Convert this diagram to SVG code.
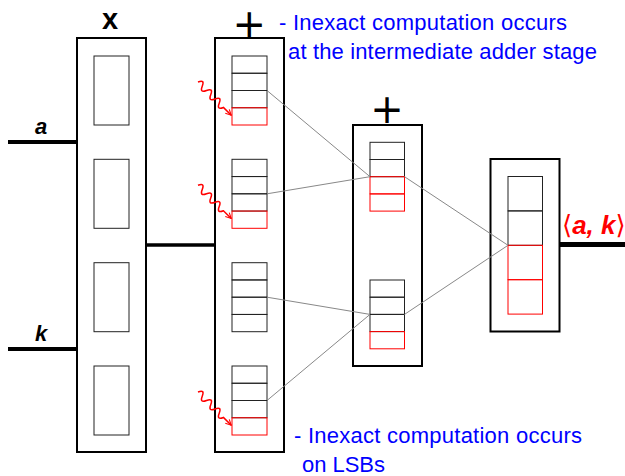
<svg xmlns="http://www.w3.org/2000/svg" width="625" height="476" viewBox="0 0 625 476">
<style>
.box{fill:none;stroke:#000;stroke-width:2}
.cell{fill:none;stroke:#222;stroke-width:1}
.rcell{fill:none;stroke:#ff0000;stroke-width:1}
.wire{stroke:#000;fill:none}
.conn{stroke:#888;stroke-width:1;fill:none}
.snake{stroke:#ff0000;stroke-width:1.5;fill:none}
.blue{font-family:"Liberation Sans",Arial,sans-serif;font-size:22px;fill:#0000ff}
.var{font-family:"Liberation Sans",Arial,sans-serif;font-weight:bold;font-style:italic;font-size:22px;fill:#000}
.op{font-family:"DejaVu Sans",sans-serif;font-size:40px;fill:#000}
</style>
<defs>
<marker id="ah" viewBox="0 0 10 10" refX="9" refY="5" markerWidth="7" markerHeight="7" orient="auto" markerUnits="userSpaceOnUse">
<path d="M1,1 L9,5 L1,9" fill="none" stroke="#ff0000" stroke-width="1.5"/>
</marker>
</defs>
<rect width="625" height="476" fill="#fff"/>

<g id="input-a">
<line class="wire" x1="8" y1="142" x2="77" y2="142" stroke-width="4"/>
<text class="var" x="35" y="134">a</text>
</g>
<g id="input-k">
<line class="wire" x1="8" y1="349" x2="77" y2="349" stroke-width="4"/>
<text class="var" x="35" y="341">k</text>
</g>

<g id="multiplier">
<text x="110" y="28.5" text-anchor="middle" font-family="Liberation Sans,Arial,sans-serif" font-weight="bold" font-size="29">x</text>
<rect class="box" x="77" y="38" width="69" height="414"/>
<rect class="cell" x="94" y="56" width="35" height="69"/>
<rect class="cell" x="94" y="159.3" width="35" height="69"/>
<rect class="cell" x="94" y="262.7" width="35" height="69"/>
<rect class="cell" x="94" y="366" width="35" height="69"/>
</g>

<g id="mid-wire">
<line class="wire" x1="146" y1="245" x2="215" y2="245" stroke-width="3.5"/>
</g>

<g id="adder1">
<text class="op" x="249.3" y="37.5" text-anchor="middle">+</text>
<rect class="box" x="215" y="38" width="69" height="414"/>
<g id="a1s1">
<rect class="cell" x="232" y="56" width="35" height="17.25"/>
<rect class="cell" x="232" y="73.25" width="35" height="17.25"/>
<rect class="cell" x="232" y="90.5" width="35" height="17.25"/>
<rect class="rcell" x="232" y="107.75" width="35" height="17.25"/>
</g>
<g id="a1s2">
<rect class="cell" x="232" y="159.3" width="35" height="17.25"/>
<rect class="cell" x="232" y="176.55" width="35" height="17.25"/>
<rect class="cell" x="232" y="193.8" width="35" height="17.25"/>
<rect class="rcell" x="232" y="211.05" width="35" height="17.25"/>
</g>
<g id="a1s3">
<rect class="cell" x="232" y="262.7" width="35" height="17.25"/>
<rect class="cell" x="232" y="279.95" width="35" height="17.25"/>
<rect class="cell" x="232" y="297.2" width="35" height="17.25"/>
<rect class="cell" x="232" y="314.45" width="35" height="17.25"/>
</g>
<g id="a1s4">
<rect class="cell" x="232" y="366" width="35" height="17.25"/>
<rect class="cell" x="232" y="383.25" width="35" height="17.25"/>
<rect class="cell" x="232" y="400.5" width="35" height="17.25"/>
<rect class="rcell" x="232" y="417.75" width="35" height="17.25"/>
</g>
</g>

<g id="adder2">
<text class="op" x="387" y="123" text-anchor="middle">+</text>
<rect class="box" x="353" y="125" width="69" height="241"/>
<g id="a2s1">
<rect class="cell" x="370" y="142.3" width="34.5" height="17.2"/>
<rect class="cell" x="370" y="159.5" width="34.5" height="17.2"/>
<rect class="rcell" x="370" y="176.7" width="34.5" height="17.2"/>
<rect class="rcell" x="370" y="193.9" width="34.5" height="17.2"/>
</g>
<g id="a2s2">
<rect class="cell" x="370" y="280" width="34.5" height="17.2"/>
<rect class="cell" x="370" y="297.2" width="34.5" height="17.2"/>
<rect class="cell" x="370" y="314.4" width="34.5" height="17.2"/>
<rect class="rcell" x="370" y="331.6" width="34.5" height="17.2"/>
</g>
</g>

<g id="final">
<rect class="box" x="490.5" y="159" width="69" height="172.5"/>
<rect class="cell" x="508" y="176.5" width="34.5" height="34.4"/>
<rect class="cell" x="508" y="210.9" width="34.5" height="34.4"/>
<rect class="rcell" x="508" y="245.3" width="34.5" height="34.4"/>
<rect class="rcell" x="508" y="279.7" width="34.5" height="34.4"/>
</g>

<g id="output">
<line class="wire" x1="559.5" y1="244.5" x2="625" y2="244.5" stroke-width="5"/>
<text x="562" y="234" fill="#ff0000" font-size="26"><tspan font-family="DejaVu Sans,sans-serif">⟨</tspan><tspan font-family="Liberation Sans,Arial,sans-serif" font-weight="bold" font-style="italic">a, k</tspan><tspan font-family="DejaVu Sans,sans-serif">⟩</tspan></text>
</g>

<g id="connectors">
<line class="conn" x1="267" y1="90.5" x2="370" y2="176.7"/>
<line class="conn" x1="267" y1="193.8" x2="370" y2="176.7"/>
<line class="conn" x1="404.5" y1="176.7" x2="508" y2="245.3"/>
<line class="conn" x1="267" y1="297.2" x2="370" y2="314.4"/>
<line class="conn" x1="267" y1="400.5" x2="370" y2="314.4"/>
<line class="conn" x1="404.5" y1="314.4" x2="508" y2="245.3"/>
</g>

<g id="error-arrows">
<path class="snake" transform="translate(198,82) rotate(45)" d="M0 0 q3 -7 6 0 t6 0 t6 0 t6 0 t6 0 t6 0 L47 0" marker-end="url(#ah)"/>
<path class="snake" transform="translate(198,185.3) rotate(45)" d="M0 0 q3 -7 6 0 t6 0 t6 0 t6 0 t6 0 t6 0 L47 0" marker-end="url(#ah)"/>
<path class="snake" transform="translate(198,392) rotate(45)" d="M0 0 q3 -7 6 0 t6 0 t6 0 t6 0 t6 0 t6 0 L47 0" marker-end="url(#ah)"/>
</g>

<g id="note-top">
<text class="blue" x="279" y="30" textLength="288" lengthAdjust="spacing">- Inexact computation occurs</text>
<text class="blue" x="288" y="59" textLength="309" lengthAdjust="spacing">at the intermediate adder stage</text>
</g>
<g id="note-bottom">
<text class="blue" x="294" y="443" textLength="288" lengthAdjust="spacing">- Inexact computation occurs</text>
<text class="blue" x="302" y="471.5" textLength="83" lengthAdjust="spacing">on LSBs</text>
</g>
</svg>
